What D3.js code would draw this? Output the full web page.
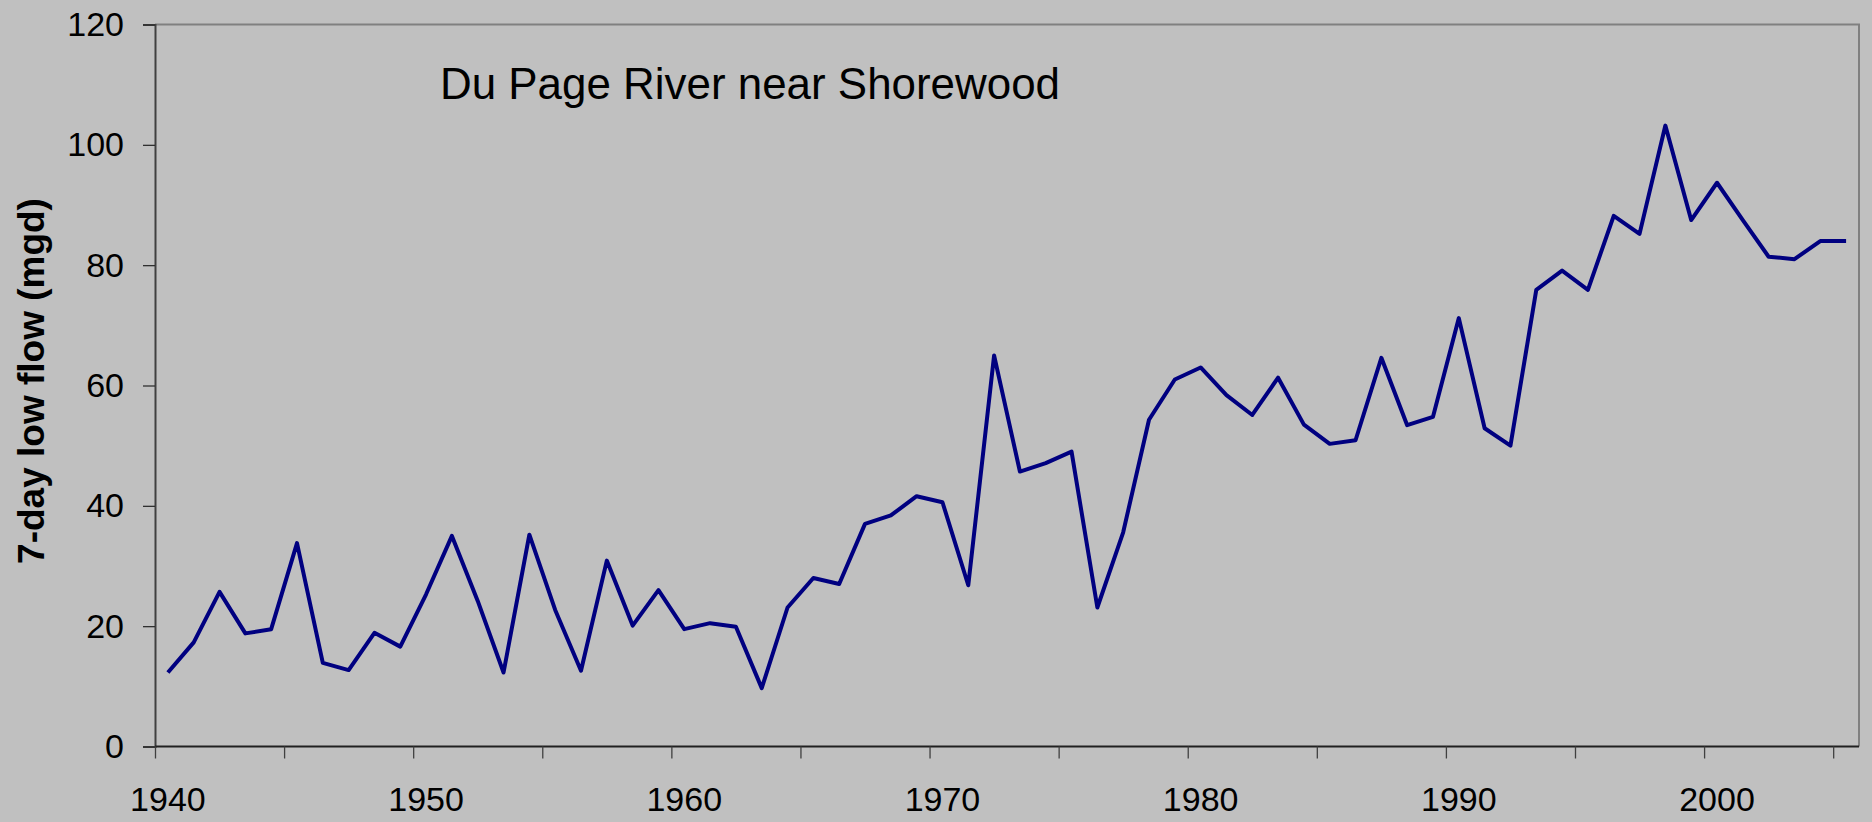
<!DOCTYPE html>
<html>
<head>
<meta charset="utf-8">
<script src="https://cdn.jsdelivr.net/npm/d3@7"></script>
<style>
  html, body { margin: 0; padding: 0; background: #c0c0c0; }
  svg { display: block; }
  text { font-family: "Liberation Sans", Arial, sans-serif; fill: #000; }
</style>
</head>
<body>
<svg id="chart" width="1872" height="822"></svg>
<script>
// Annual 7-day low flow, Du Page River near Shorewood (mgd)
const years = d3.range(1940, 2006);
const lowFlow = [
  12.3, 17.3, 25.7, 18.8, 19.5, 33.8, 13.9, 12.7, 18.9, 16.6,
  25.3, 35.0, 24.2, 12.3, 35.2, 22.7, 12.6, 30.9, 20.1, 26.0,
  19.5, 20.5, 19.9, 9.7, 23.1, 28.0, 27.0, 37.0, 38.4, 41.6,
  40.6, 26.8, 65.0, 45.7, 47.1, 49.0, 23.1, 35.6, 54.3, 61.0,
  63.0, 58.4, 55.1, 61.3, 53.5, 50.3, 50.9, 64.6, 53.4, 54.8,
  71.2, 52.9, 50.0, 75.9, 79.1, 75.9, 88.2, 85.2, 103.2, 87.5,
  93.7, 87.5, 81.4, 81.0, 84.0, 84.0
];
const yTicks = [0, 20, 40, 60, 80, 100, 120];
const xTickYears = d3.range(1940, 2006, 5);
const xLabelYears = [1940, 1950, 1960, 1970, 1980, 1990, 2000];
const chartTitle = "Du Page River near Shorewood";
const yTitle = "7-day low flow (mgd)";

const svg = d3.select("#chart");
const plotLeft = 155, plotRight = 1859, plotTop = 24.5, plotBottom = 746.5;

// Each year is a category slot; points sit in the middle of their slot
const x = d3.scaleBand().domain(years).range([plotLeft, plotRight]).padding(0);
const xMid = d => x(d) + x.bandwidth() / 2;
const y = d3.scaleLinear().domain([0, 120]).range([plotBottom, plotTop]);

svg.append("rect").attr("width", 1872).attr("height", 822).attr("fill", "#c0c0c0");

// plot frame: grey top and right edges
svg.append("path")
  .attr("d", `M${plotLeft},${plotTop}H${plotRight}V${plotBottom}`)
  .attr("fill", "none").attr("stroke", "#808080").attr("stroke-width", 2);

// y axis
const yAxis = d3.axisLeft(y).tickValues(yTicks).tickSize(12).tickPadding(19);
const gy = svg.append("g").attr("transform", `translate(${plotLeft},0)`).call(yAxis);
gy.select(".domain").attr("stroke", "#404040").attr("stroke-width", 2);
gy.selectAll(".tick line").attr("stroke", "#303030").attr("stroke-width", 1.3);
gy.selectAll(".tick text").style("font-size", "34px").attr("fill", "#000");

// x axis: tick marks on slot boundaries every 5 years
const xEdge = d3.scaleLinear().domain([1940, 2006]).range([plotLeft, plotRight]);
const xAxis = d3.axisBottom(xEdge).tickValues(xTickYears).tickSize(12).tickFormat("");
const gx = svg.append("g").attr("transform", `translate(0,${plotBottom})`).call(xAxis);
gx.select(".domain").attr("stroke", "#202020").attr("stroke-width", 2).attr("d", `M${plotLeft},0H${plotRight}`);
gx.selectAll(".tick line").attr("stroke", "#404040").attr("stroke-width", 1.3);

// decade labels centred in their year slot
svg.append("g").selectAll("text")
  .data(xLabelYears).join("text")
  .attr("x", d => xMid(d))
  .attr("y", 811)
  .attr("text-anchor", "middle")
  .style("font-size", "34px")
  .text(d => d);

// series line
const line = d3.line().x((d, i) => xMid(years[i])).y(d => y(d));
svg.append("path")
  .datum(lowFlow)
  .attr("d", line)
  .attr("fill", "none")
  .attr("stroke", "#000080")
  .attr("stroke-width", 4)
  .attr("stroke-linejoin", "round");

// chart title inside the plot
svg.append("text")
  .attr("x", 440).attr("y", 99)
  .attr("textLength", 620).attr("lengthAdjust", "spacingAndGlyphs")
  .style("font-size", "45px")
  .text(chartTitle);

// y axis title
svg.append("text")
  .attr("transform", "translate(44,381) rotate(-90)")
  .attr("text-anchor", "middle")
  .style("font-size", "37px").style("font-weight", "bold")
  .text(yTitle);
</script>
</body>
</html>
